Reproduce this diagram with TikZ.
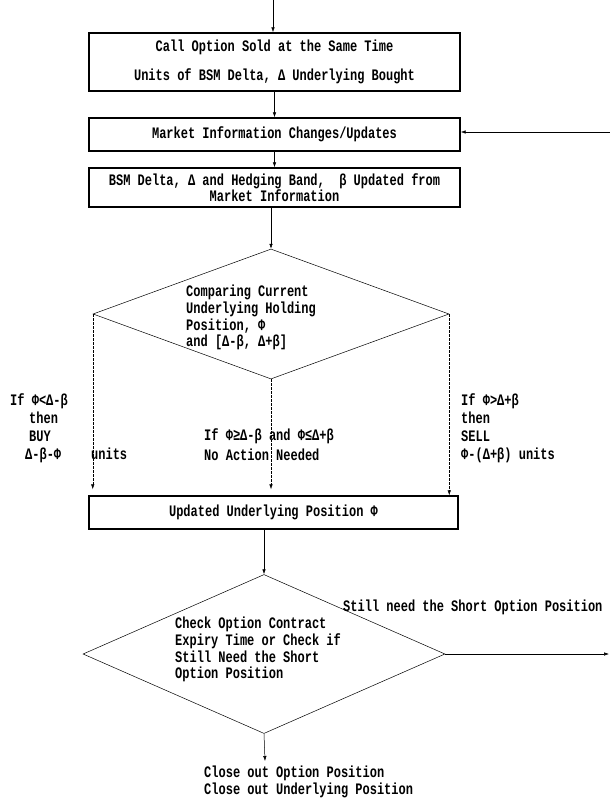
\documentclass[tikz,border=0pt]{standalone}
\usepackage{fontspec}
\setmainfont{Liberation Mono}[FakeStretch=0.75]
\usetikzlibrary{shapes.geometric,arrows.meta}

\tikzset{
  box/.style={draw, line width=1.4pt, minimum width=371pt, inner sep=0pt, align=center},
  decision/.style={draw, diamond, line width=0.5pt, inner sep=0pt},
  txt/.style={inner sep=0pt, align=left},
  arr/.style={-{Latex[length=5pt,width=3.5pt]}, line width=0.5pt},
  dasharr/.style={arr, dash pattern=on 2.5pt off 1.5pt},
}

\begin{document}
\begin{tikzpicture}[x=1pt, y=-1pt, every node/.style={font=\fontsize{16}{16.7}\selectfont\bfseries}]
	\useasboundingbox (0,0) rectangle (610,803);
	
	\node[box, minimum height=58pt] (sold) at (274.5,62) {Call Option Sold at the Same Time\\[12pt]Units of BSM Delta, Δ Underlying Bought};
	\node[box, minimum height=33pt] (market) at (274.5,134.5) {Market Information Changes/Updates};
	\node[box, minimum height=39pt, font=\fontsize{16}{15}\selectfont\bfseries] (update) at (274.5,187.5) {BSM Delta, Δ and Hedging Band,\ \ β Updated from\\Market Information};
	
	\node[decision, minimum width=356pt, minimum height=130pt] (compare) at (271,314) {};
	\node[txt, anchor=north west] (comparetxt) at (186,285) {Comparing Current\\Underlying Holding\\Position, Φ\\and [Δ-β, Δ+β]};
	
	\node[txt, anchor=north west, font=\fontsize{16}{18.3}\selectfont\bfseries] (buy) at (10,393) {If Φ<Δ-β\\\hspace*{19pt}then\\\hspace*{19pt}BUY\\\hspace*{15pt}Δ-β-Φ\hspace*{30pt}units};
	\node[txt, anchor=north west, font=\fontsize{16}{20}\selectfont\bfseries] (hold) at (204,428) {If Φ≥Δ-β and Φ≤Δ+β\\No Action Needed};
	\node[txt, anchor=north west, font=\fontsize{16}{18.3}\selectfont\bfseries] (sell) at (461,393) {If Φ>Δ+β\\then\\SELL\\Φ-(Δ+β) units};
	
	\node[box, minimum width=369pt, minimum height=33pt] (newpos) at (273.5,512.5) {Updated Underlying Position Φ};
	
	\node[decision, minimum width=362pt, minimum height=159pt] (expiry) at (264,654) {};
	\node[txt, anchor=north west] (expirytxt) at (175,617) {Check Option Contract\\Expiry Time or Check if\\Still Need the Short\\Option Position};
	\node[txt, anchor=west] (keep) at (343,607) {Still need the Short Option Position};
	\node[txt, anchor=north west] (close) at (204,766) {Close out Option Position\\Close out Underlying Position};
	
	\coordinate (start) at (273,0);
	\coordinate (loop) at (610,132);
	\coordinate (next) at (609,654);
	\coordinate (finish) at (265,761);
	
	\draw[arr] (start) -- (start |- sold.north);
	\draw[arr] (sold) -- (market);
	\draw[arr] (loop) -- (loop -| market.east);
	\draw[arr] (market) -- (update);
	\draw[arr] (update.south -| compare.north) -- (compare.north);
	\draw[dasharr, shorten >=6pt] (compare.west) -- (compare.west |- newpos.north);
	\draw[dasharr, shorten >=6pt] (compare.south) -- (compare.south |- newpos.north);
	\draw[dasharr] (compare.east) -- (compare.east |- newpos.north);
	\draw[arr] (newpos.south -| expiry.north) -- (expiry.north);
	\draw[arr] (expiry.east) -- (next);
	\draw[arr] (expiry.south) -- (finish);
\end{tikzpicture}
\end{document}
